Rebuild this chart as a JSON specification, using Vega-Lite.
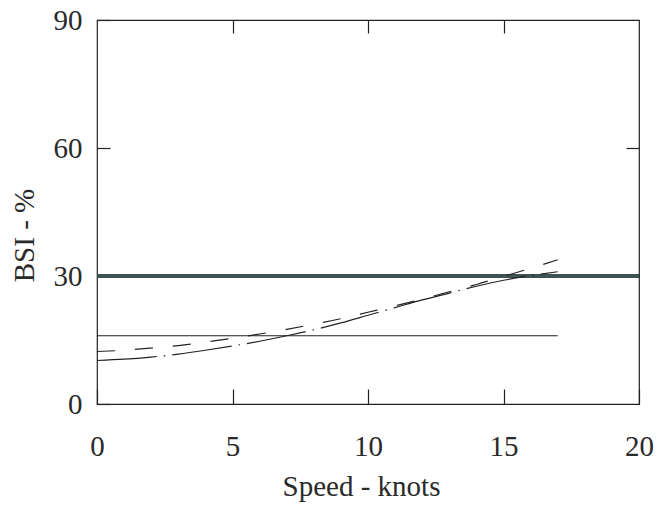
{
  "$schema": "https://vega.github.io/schema/vega-lite/v6.json",
  "autosize": "none",
  "width": 542,
  "height": 384,
  "padding": {"left": 97, "top": 20, "right": 31, "bottom": 103},
  "background": "white",
  "config": {
    "view": {"stroke": "#222", "strokeWidth": 1.2},
    "font": "Liberation Serif",
    "axis": {
      "grid": false,
      "domain": false,
      "labelFlush": false,
      "labelFont": "Liberation Serif",
      "titleFont": "Liberation Serif",
      "labelColor": "#2a2a2a",
      "titleColor": "#2a2a2a",
      "tickColor": "#222",
      "titleFontWeight": "normal",
      "labelFontSize": 29,
      "titleFontSize": 29
    }
  },
  "data": {
    "values": [
      {"series": "thick", "speed": 0, "bsi": 30},
      {"series": "thick", "speed": 20, "bsi": 30},
      {"series": "flat", "speed": 0, "bsi": 16},
      {"series": "flat", "speed": 17, "bsi": 16},
      {"series": "dashed", "speed": 0, "bsi": 12.3},
      {"series": "dashed", "speed": 1, "bsi": 12.6},
      {"series": "dashed", "speed": 2, "bsi": 13.1},
      {"series": "dashed", "speed": 3, "bsi": 13.7},
      {"series": "dashed", "speed": 4, "bsi": 14.5},
      {"series": "dashed", "speed": 5, "bsi": 15.4},
      {"series": "dashed", "speed": 6, "bsi": 16.4},
      {"series": "dashed", "speed": 7, "bsi": 17.5},
      {"series": "dashed", "speed": 8, "bsi": 18.7},
      {"series": "dashed", "speed": 9, "bsi": 20.0},
      {"series": "dashed", "speed": 10, "bsi": 21.5},
      {"series": "dashed", "speed": 11, "bsi": 23.0},
      {"series": "dashed", "speed": 12, "bsi": 24.6},
      {"series": "dashed", "speed": 13, "bsi": 26.3},
      {"series": "dashed", "speed": 14, "bsi": 28.0},
      {"series": "dashed", "speed": 15, "bsi": 29.9},
      {"series": "dashed", "speed": 16, "bsi": 31.8},
      {"series": "dashed", "speed": 17, "bsi": 33.8},
      {"series": "dashdot", "speed": 0, "bsi": 10.2},
      {"series": "dashdot", "speed": 1, "bsi": 10.5},
      {"series": "dashdot", "speed": 2, "bsi": 11.0},
      {"series": "dashdot", "speed": 3, "bsi": 11.7},
      {"series": "dashdot", "speed": 4, "bsi": 12.6},
      {"series": "dashdot", "speed": 5, "bsi": 13.6},
      {"series": "dashdot", "speed": 6, "bsi": 14.7},
      {"series": "dashdot", "speed": 7, "bsi": 16.0},
      {"series": "dashdot", "speed": 8, "bsi": 17.4},
      {"series": "dashdot", "speed": 9, "bsi": 19.0},
      {"series": "dashdot", "speed": 10, "bsi": 20.8},
      {"series": "dashdot", "speed": 11, "bsi": 22.6},
      {"series": "dashdot", "speed": 12, "bsi": 24.4},
      {"series": "dashdot", "speed": 13, "bsi": 26.0},
      {"series": "dashdot", "speed": 14, "bsi": 27.6},
      {"series": "dashdot", "speed": 15, "bsi": 29.0},
      {"series": "dashdot", "speed": 16, "bsi": 30.1},
      {"series": "dashdot", "speed": 17, "bsi": 31.0}
    ]
  },
  "resolve": {"axis": {"x": "independent", "y": "independent"}},
  "layer": [
    {
      "transform": [{"filter": "datum.series === 'thick'"}],
      "mark": {"type": "line", "color": "#3e5252", "strokeWidth": 4, "clip": true},
      "encoding": {
        "x": {"field": "speed", "type": "quantitative", "scale": {"domain": [0, 20], "nice": false},
          "axis": {"orient": "bottom", "title": "Speed - knots", "values": [0, 5, 10, 15, 20], "tickSize": -15, "tickWidth": 1.2, "labelPadding": 43, "titleBaseline": "alphabetic", "titleX": 264, "titleY": 91}},
        "y": {"field": "bsi", "type": "quantitative", "scale": {"domain": [0, 90], "nice": false},
          "axis": {"orient": "left", "title": "BSI - %", "values": [0, 30, 60, 90], "tickSize": -13, "tickWidth": 1.2, "labelPadding": 28, "titleBaseline": "alphabetic", "titleX": -64, "titleY": 215}}
      }
    },
    {
      "transform": [{"filter": "datum.series === 'flat'"}],
      "mark": {"type": "line", "color": "#222", "strokeWidth": 1.2},
      "encoding": {
        "x": {"field": "speed", "type": "quantitative", "scale": {"domain": [0, 20], "nice": false},
          "axis": {"orient": "top", "title": null, "labels": false, "values": [5, 10, 15], "tickSize": -13, "tickWidth": 1.2}},
        "y": {"field": "bsi", "type": "quantitative", "scale": {"domain": [0, 90], "nice": false},
          "axis": {"orient": "right", "title": null, "labels": false, "values": [30, 60], "tickSize": -13, "tickWidth": 1.2}}
      }
    },
    {
      "transform": [{"filter": "datum.series === 'dashed'"}],
      "mark": {"type": "line", "color": "#222", "strokeWidth": 1.2, "strokeDash": [18, 20], "interpolate": "monotone"},
      "encoding": {
        "x": {"field": "speed", "type": "quantitative", "axis": null},
        "y": {"field": "bsi", "type": "quantitative", "axis": null}
      }
    },
    {
      "transform": [{"filter": "datum.series === 'dashdot'"}],
      "mark": {"type": "line", "color": "#222", "strokeWidth": 1.2, "strokeDash": [60, 7, 1.5, 7], "interpolate": "monotone"},
      "encoding": {
        "x": {"field": "speed", "type": "quantitative", "axis": null},
        "y": {"field": "bsi", "type": "quantitative", "axis": null}
      }
    }
  ]
}
